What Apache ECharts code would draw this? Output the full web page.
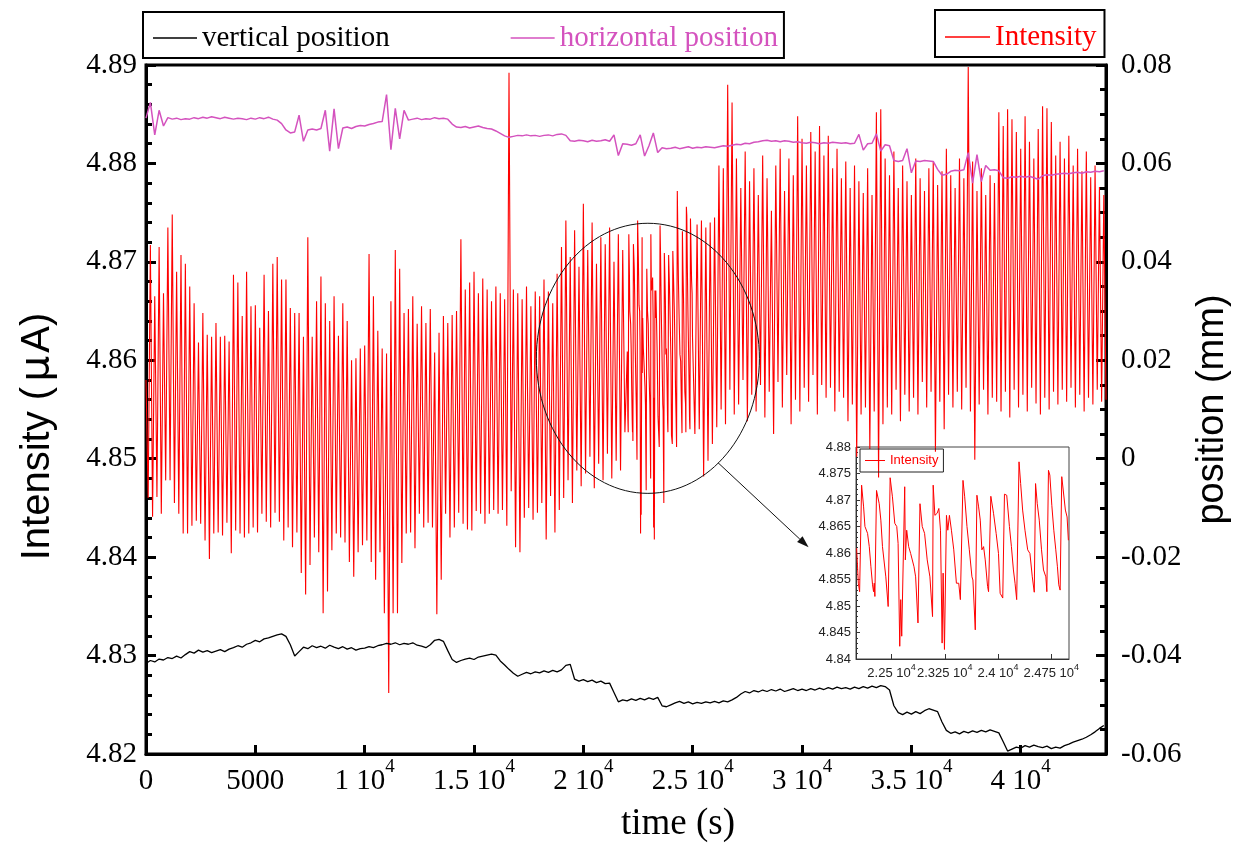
<!DOCTYPE html>
<html><head><meta charset="utf-8">
<script src="https://cdn.jsdelivr.net/npm/echarts@6/dist/echarts.min.js"></script>
<style>html,body{margin:0;padding:0;background:#fff}#c{width:1235px;height:844px}</style>
</head><body><div id="c"></div>
<script>
// ---------------- DATA ----------------
// Main intensity (µA), sampled every 100 s from 0 to 21900 s
const intensityA = [
4.858,4.846,4.8717,4.8441,4.8665,4.8461,4.8715,4.8444,4.8668,4.8478,
4.8735,4.8478,4.8748,4.8455,4.869,4.8444,4.8707,4.8424,4.8698,4.8424,
4.8675,4.8432,4.8658,4.8437,4.8618,4.8434,4.8648,4.8417,4.8626,4.8398,
4.8624,4.8424,4.8638,4.8425,4.8624,4.8422,4.8625,4.8435,4.8619,4.8404,
4.8687,4.8427,4.8679,4.8424,4.8645,4.842,4.869,4.8424,4.8655,4.843,
4.8656,4.8425,4.8633,4.8444,4.8687,4.8436,4.865,4.843,4.8698,4.8445,
4.8705,4.8436,4.8682,4.8417,4.8682,4.843,4.8653,4.841,4.8648,4.8425,
4.8648,4.8384,4.8624,4.8362,4.8725,4.8392,4.8624,4.842,4.866,4.8405,
4.8685,4.8343,4.8658,4.8365,4.864,4.8407,4.8665,4.8424,4.8625,4.842,
4.8658,4.8415,4.864,4.8395,4.86,4.838,4.8602,4.8405,4.8612,4.8412,
4.8615,4.8417,4.8708,4.8395,4.8665,4.8377,4.863,4.8405,4.8612,4.8343,
4.8607,4.8262,4.866,4.8343,4.8712,4.8343,4.8693,4.8394,4.8648,4.8424,
4.8652,4.8425,4.8665,4.8409,4.8637,4.8444,4.8655,4.843,4.8638,4.8435,
4.8652,4.843,4.8608,4.8342,4.8628,4.8377,4.8645,4.8444,4.8638,4.842,
4.8646,4.843,4.865,4.8445,4.8723,4.8434,4.8672,4.8428,4.8679,4.8427,
4.869,4.8447,4.8668,4.8444,4.8683,4.8434,4.8672,4.8444,4.866,4.8448,
4.8675,4.8444,4.8668,4.8448,4.8662,4.8432,4.8892,4.8467,4.8672,4.841,
4.8668,4.8405,4.8662,4.844,4.8675,4.845,4.8655,4.8438,4.867,4.8445,
4.8665,4.8455,4.8682,4.8418,4.867,4.8462,4.8658,4.8425,4.8688,4.8448,
4.8715,4.846,4.8742,4.8478,4.8705,4.8455,4.8732,4.8488,4.8695,4.8472,
4.8759,4.8485,4.8712,4.8502,4.874,4.847,4.8698,4.8495,4.8725,4.8478,
4.8718,4.8505,4.8735,4.848,4.87,4.8498,4.8728,4.8488,4.8712,4.8527
];
// Detailed intensity 22000-25000 s (as in the inset)
const insetTime = [
22009,22033,22051,22079,22107,22126,22163,22187,22210,22233,22247,22257,22266,22289,22327,22350,22373,22420,22453,
22481,22513,22546,22574,22593,22616,22630,22644,22686,22695,22714,22742,22770,22817,22840,22873,22901,22933,22966,
23003,23041,23078,23087,23111,23143,23167,23190,23213,23227,23246,23274,23293,23316,23344,23377,23414,23447,23470,
23507,23531,23563,23596,23633,23647,23680,23703,23727,23750,23773,23797,23820,23853,23867,23899,23937,23974,24007,
24030,24067,24091,24123,24161,24189,24217,24240,24263,24296,24319,24347,24380,24418,24450,24483,24511,24529,24553,
24581,24613,24641,24674,24688,24711,24730,24758,24786,24814,24837,24856,24875,24898,24926,24949,24973,24991
];
const insetIntensity = [
4.8609,4.8543,4.8527,4.8728,4.8687,4.8650,4.8637,4.8612,4.8574,4.8540,4.8527,4.8543,4.8518,4.8718,4.8693,4.8662,4.8612,4.8555,4.8499,
4.8742,4.8706,4.8656,4.8650,4.8618,4.8424,4.8512,4.8443,4.8725,4.8587,4.8643,4.8612,4.8599,4.8574,4.8555,4.8468,4.8693,4.8650,4.8637,
4.8587,4.8555,4.8480,4.8728,4.8671,4.8675,4.8684,4.8643,4.8430,4.8562,4.8418,4.8671,4.8643,4.8671,4.8643,4.8606,4.8543,4.8543,4.8512,
4.8737,4.8706,4.8650,4.8606,4.8555,4.8549,4.8455,4.8709,4.8687,4.8662,4.8606,4.8612,4.8587,4.8537,4.8527,4.8707,4.8675,4.8637,4.8599,
4.8524,4.8515,4.8711,4.8709,4.8650,4.8612,4.8568,4.8543,4.8512,4.8772,4.8731,4.8681,4.8643,4.8606,4.8599,4.8555,4.8526,4.8731,4.8693,
4.8662,4.8606,4.8568,4.8555,4.8527,4.8756,4.8747,4.8690,4.8643,4.8606,4.8574,4.8540,4.8530,4.8744,4.8744,4.8681,4.8668,4.8624
];
// Main intensity (µA), sampled every 100 s from 25100 to 43900 s
const intensityB = [
4.8525,4.8738,4.853,4.8742,4.8482,4.8735,4.8498,4.874,4.8515,
4.8745,4.8532,4.8798,4.855,4.8795,4.8535,4.888,4.857,4.8862,4.8545,
4.8805,4.8555,4.8775,4.858,4.8812,4.8538,4.8782,4.8565,4.8795,4.8548,
4.8768,4.8575,4.8808,4.8542,4.8785,4.8568,4.8752,4.8525,4.8798,4.8578,
4.8815,4.8552,4.8772,4.8585,4.8805,4.8535,4.8788,4.856,4.8848,4.8548,
4.8825,4.8572,4.8798,4.8558,4.8832,4.8585,4.8812,4.8545,4.8838,4.8575,
4.8808,4.8562,4.8828,4.8572,4.8795,4.8548,4.8815,4.8568,4.8785,4.8562,
4.8802,4.8538,4.8775,4.8555,4.8798,4.8502,4.8782,4.8545,4.877,4.8552,
4.8795,4.851,4.8768,4.8548,4.8852,4.8481,4.8855,4.8535,4.8805,4.8552,
4.8788,4.8545,4.8812,4.857,4.8775,4.8538,4.8798,4.8565,4.8782,4.8548,
4.8768,4.8562,4.8805,4.8545,4.8785,4.8578,4.8772,4.8552,4.8795,4.8568,
4.8802,4.8507,4.8778,4.8558,4.8792,4.853,4.8815,4.8565,4.8788,4.8552,
4.8775,4.8568,4.8805,4.855,4.8785,4.8572,4.8898,4.8548,4.8802,4.8499,
4.8772,4.8555,4.8795,4.857,4.8768,4.8545,4.8788,4.8562,4.878,4.8558,
4.8852,4.8548,4.8838,4.8568,4.8855,4.8542,4.8845,4.857,4.8832,4.8552,
4.8815,4.8565,4.8848,4.8548,4.8822,4.8572,4.8805,4.8556,4.8835,4.8545,
4.8858,4.8562,4.8856,4.855,4.8842,4.8568,4.8808,4.8555,4.8822,4.857,
4.8805,4.8558,4.8828,4.8572,4.8798,4.8552,4.8815,4.8565,4.8792,4.8548,
4.8812,4.8562,4.8786,4.8555,4.8798,4.857,4.8776,4.8558,4.8768,4.856
];
// Horizontal position (mm), every 200 s from 0 s
const horizPos = [
0.0692,0.0724,0.0658,0.0708,0.0676,0.0693,0.0690,0.0692,0.0689,0.0691,
0.0690,0.0693,0.0691,0.0694,0.0692,0.0695,0.0693,0.0691,0.0694,0.0692,
0.0690,0.0692,0.0691,0.0689,0.0692,0.0690,0.0693,0.0691,0.0694,0.0690,
0.0688,0.0681,0.0668,0.0662,0.0664,0.0698,0.0645,0.0668,0.0670,0.0668,
0.0671,0.0708,0.0625,0.0711,0.0630,0.0672,0.0674,0.0671,0.0675,0.0677,
0.0676,0.0679,0.0681,0.0684,0.0685,0.0740,0.0628,0.0712,0.0650,0.0708,
0.0688,0.0690,0.0692,0.0689,0.0691,0.0690,0.0693,0.0691,0.0692,0.0690,
0.0680,0.0674,0.0673,0.0675,0.0672,0.0674,0.0676,0.0673,0.0671,0.0670,
0.0666,0.0661,0.0656,0.0653,0.0655,0.0657,0.0656,0.0658,0.0656,0.0657,
0.0655,0.0657,0.0658,0.0656,0.0659,0.0660,0.0657,0.0646,0.0645,0.0647,
0.0646,0.0644,0.0647,0.0645,0.0646,0.0648,0.0645,0.0658,0.0616,0.0640,
0.0639,0.0637,0.0640,0.0658,0.0615,0.0636,0.0662,0.0622,0.0632,0.0630,
0.0631,0.0633,0.0630,0.0632,0.0634,0.0631,0.0633,0.0632,0.0634,0.0633,
0.0632,0.0634,0.0636,0.0635,0.0637,0.0639,0.0638,0.0641,0.0640,0.0643,
0.0644,0.0646,0.0647,0.0645,0.0646,0.0644,0.0646,0.0645,0.0643,0.0644,
0.0642,0.0641,0.0643,0.0642,0.0640,0.0642,0.0641,0.0643,0.0642,0.0641,
0.0642,0.0640,0.0641,0.0659,0.0627,0.0640,0.0641,0.0660,0.0625,0.0638,
0.0636,0.0606,0.0604,0.0606,0.0630,0.0581,0.0605,0.0604,0.0606,0.0605,
0.0604,0.0588,0.0576,0.0578,0.0584,0.0586,0.0585,0.0587,0.0622,0.0560,
0.0618,0.0563,0.0596,0.0586,0.0587,0.0585,0.0571,0.0570,0.0573,0.0572,
0.0574,0.0572,0.0574,0.0571,0.0568,0.0575,0.0577,0.0576,0.0578,0.0579,
0.0580,0.0579,0.0581,0.0582,0.0580,0.0583,0.0582,0.0584,0.0583,0.0585
];
// Vertical position (mm), every 200 s from 0 s
const vertPos = [
-0.0416,-0.0410,-0.0413,-0.0407,-0.0409,-0.0404,-0.0406,-0.0401,-0.0405,-0.0398,
-0.0392,-0.0395,-0.0389,-0.0393,-0.0390,-0.0394,-0.0391,-0.0388,-0.0392,-0.0387,
-0.0384,-0.0380,-0.0383,-0.0377,-0.0374,-0.0369,-0.0372,-0.0366,-0.0364,-0.0361,
-0.0358,-0.0356,-0.0361,-0.0378,-0.0401,-0.0392,-0.0383,-0.0386,-0.0380,-0.0384,
-0.0381,-0.0385,-0.0379,-0.0383,-0.0386,-0.0382,-0.0387,-0.0384,-0.0389,-0.0386,
-0.0385,-0.0382,-0.0384,-0.0380,-0.0378,-0.0375,-0.0377,-0.0374,-0.0378,-0.0375,
-0.0377,-0.0374,-0.0379,-0.0381,-0.0384,-0.0378,-0.0369,-0.0367,-0.0371,-0.0390,
-0.0408,-0.0414,-0.0410,-0.0407,-0.0405,-0.0408,-0.0403,-0.0401,-0.0399,-0.0397,
-0.0399,-0.0411,-0.0419,-0.0428,-0.0436,-0.0442,-0.0438,-0.0434,-0.0437,-0.0433,
-0.0435,-0.0431,-0.0434,-0.0430,-0.0433,-0.0429,-0.0420,-0.0418,-0.0448,-0.0452,
-0.0449,-0.0453,-0.0450,-0.0455,-0.0452,-0.0457,-0.0456,-0.0475,-0.0494,-0.0490,
-0.0492,-0.0488,-0.0491,-0.0487,-0.0490,-0.0486,-0.0489,-0.0485,-0.0502,-0.0504,
-0.0500,-0.0496,-0.0493,-0.0497,-0.0494,-0.0498,-0.0495,-0.0497,-0.0494,-0.0496,
-0.0493,-0.0496,-0.0492,-0.0494,-0.0490,-0.0485,-0.0478,-0.0473,-0.0476,-0.0471,
-0.0474,-0.0470,-0.0473,-0.0469,-0.0472,-0.0468,-0.0473,-0.0470,-0.0467,-0.0471,
-0.0468,-0.0471,-0.0467,-0.0470,-0.0466,-0.0469,-0.0465,-0.0468,-0.0464,-0.0467,
-0.0465,-0.0468,-0.0464,-0.0467,-0.0463,-0.0466,-0.0462,-0.0465,-0.0461,-0.0463,
-0.0470,-0.0502,-0.0516,-0.0520,-0.0515,-0.0519,-0.0514,-0.0518,-0.0512,-0.0508,
-0.0511,-0.0514,-0.0535,-0.0552,-0.0558,-0.0555,-0.0559,-0.0554,-0.0557,-0.0553,
-0.0556,-0.0552,-0.0555,-0.0551,-0.0554,-0.0557,-0.0575,-0.0594,-0.0590,-0.0586,
-0.0588,-0.0583,-0.0586,-0.0582,-0.0585,-0.0587,-0.0584,-0.0589,-0.0586,-0.0588,
-0.0583,-0.0580,-0.0576,-0.0573,-0.0570,-0.0566,-0.0561,-0.0555,-0.0548,-0.0542
];
const xTickLabels = ['0','5000','1 10^4','1.5 10^4','2 10^4','2.5 10^4','3 10^4','3.5 10^4','4 10^4'];
const insetXTickValues = [22500, 23250, 24000, 24750];
const insetXTickLabels = ['2.25 10^4','2.325 10^4','2.4 10^4','2.475 10^4'];
// annotation (data units): zoom ellipse and arrow
const zoomEllipse = {cx: 22950, cy: 4.8602, rx: 5100, ry: 0.01372};
const zoomArrow = {from: [26155, 4.8496], to: [30300, 4.8410]};

// ---------------- CHART ----------------
const SERIF = "'Liberation Serif','Times New Roman',serif";
const SANS = "'Liberation Sans',Arial,sans-serif";
const RED = '#ff0000', MAG = '#d452be', BLACK = '#000';
const STEP = 100, PSTEP = 200, B_START = 25100;

const mainData = [];
intensityA.forEach((v, i) => mainData.push([i * STEP, v]));
insetTime.forEach((t, i) => mainData.push([t, insetIntensity[i]]));
intensityB.forEach((v, i) => mainData.push([B_START + i * STEP, v]));
const insetData = insetTime.map((t, i) => [t, insetIntensity[i]]);
const hData = horizPos.map((v, i) => [i * PSTEP, v]);
const vData = vertPos.map((v, i) => [i * PSTEP, v]);

function toRich(s) {
  if (s.indexOf('^') >= 0) { const p = s.split('^'); return '{m|' + p[0] + '}{e|' + p[1] + '}'; }
  return '{m|' + s + '}';
}

const chart = echarts.init(document.getElementById('c'), null, {renderer: 'canvas'});
const option = {
  animation: false,
  backgroundColor: '#fff',
  grid: [
    {left: 146, top: 65, width: 960, height: 689, show: true, borderColor: '#000', borderWidth: 3,
     backgroundColor: 'transparent', containLabel: false, outerBoundsMode: 'none'},
    {left: 856, top: 447, width: 213, height: 212, show: true, borderColor: '#444', borderWidth: 1,
     backgroundColor: 'transparent', containLabel: false, outerBoundsMode: 'none'}
  ],
  legend: [
    {left: 143, top: 12, orient: 'horizontal', selectedMode: false, icon: 'rect', itemWidth: 44, itemHeight: 1.5, itemGap: 121,
     padding: [11, 6, 5, 10], borderColor: '#000', borderWidth: 2,
     textStyle: {fontFamily: SERIF, fontSize: 29, lineHeight: 30, color: '#000'},
     data: [{name: 'vertical position', textStyle: {color: BLACK}}, {name: 'horizontal position', textStyle: {color: MAG}}]},
    {left: 935, top: 10, orient: 'horizontal', selectedMode: false, icon: 'rect', itemWidth: 45, itemHeight: 1.5,
     padding: [12, 8, 5, 10], borderColor: '#000', borderWidth: 2,
     textStyle: {fontFamily: SERIF, fontSize: 29, lineHeight: 30, color: RED},
     data: [{name: 'Intensity', textStyle: {color: RED}}]},
    {left: 860, top: 449, orient: 'horizontal', selectedMode: false, icon: 'rect', itemWidth: 20, itemHeight: 1,
     padding: [4, 5, 4, 5], borderColor: '#222', borderWidth: 1,
     textStyle: {fontFamily: SANS, fontSize: 13, lineHeight: 15, color: RED},
     data: [{name: 'Intensity', textStyle: {color: RED}}]}
  ],
  xAxis: [
    {type: 'value', gridIndex: 0, min: 0, max: 43900, interval: 5000,
     name: 'time (s)', nameLocation: 'middle', nameGap: 52,
     nameTextStyle: {fontFamily: SERIF, fontSize: 37, color: '#000', padding: [0, 0, 0, 104]},
     axisLine: {show: true, onZero: false, lineStyle: {color: '#000', width: 3}},
     axisTick: {show: true, inside: true, length: 9, lineStyle: {color: '#000', width: 3}},
     splitLine: {show: false},
     axisLabel: {margin: 4, showMaxLabel: false,
       formatter: v => { const k = Math.round(v / 5000); return (k * 5000 === v && xTickLabels[k] !== undefined) ? toRich(xTickLabels[k]) : ''; },
       rich: {m: {fontFamily: SERIF, fontSize: 29, lineHeight: 38, verticalAlign: 'bottom', color: '#000'},
              e: {fontFamily: SERIF, fontSize: 19, lineHeight: 19, verticalAlign: 'top', color: '#000'}}}},
    {type: 'value', gridIndex: 1, min: 22000, max: 25000,
     axisLine: {show: true, onZero: false, lineStyle: {color: '#333', width: 1}},
     axisTick: {show: true, inside: true, length: 5, customValues: insetXTickValues, lineStyle: {color: '#333', width: 1}},
     splitLine: {show: false},
     axisLabel: {margin: 4, customValues: insetXTickValues,
       formatter: v => { const i = insetXTickValues.indexOf(v); return i >= 0 ? toRich(insetXTickLabels[i]) : ''; },
       rich: {m: {fontFamily: SANS, fontSize: 13, lineHeight: 17, verticalAlign: 'bottom', color: '#222'},
              e: {fontFamily: SANS, fontSize: 9, lineHeight: 9, verticalAlign: 'top', color: '#222'}}}}
  ],
  yAxis: [
    {type: 'value', gridIndex: 0, position: 'left', min: 4.82, max: 4.89, interval: 0.01,
     name: '{a|Intensity (}{b|μ}{a|A)}', nameLocation: 'middle', nameGap: 88, nameRotate: 90,
     nameTextStyle: {fontFamily: SANS, fontSize: 38, color: '#000', padding: [0, 54, 0, 0],
       rich: {a: {fontFamily: SANS, fontSize: 40, color: '#000'}, b: {fontFamily: "'DejaVu Sans'", fontSize: 41, color: '#000', padding: [0, 3, 0, 5]}}},
     axisLine: {show: true, onZero: false, lineStyle: {color: '#000', width: 3}},
     axisTick: {show: true, inside: true, length: 10, lineStyle: {color: '#000', width: 3}},
     minorTick: {show: true, splitNumber: 5, length: 6, lineStyle: {color: '#000', width: 3}},
     splitLine: {show: false},
     axisLabel: {margin: 9, fontFamily: SERIF, fontSize: 29, color: '#000', formatter: v => v.toFixed(2)}},
    {type: 'value', gridIndex: 0, position: 'right', min: -0.06, max: 0.08, interval: 0.02,
     name: 'position (mm)', nameLocation: 'middle', nameGap: 88, nameRotate: 90,
     nameTextStyle: {fontFamily: SANS, fontSize: 38, color: '#000'},
     axisLine: {show: true, onZero: false, lineStyle: {color: '#000', width: 3}},
     axisTick: {show: true, inside: true, length: 10, lineStyle: {color: '#000', width: 3}},
     minorTick: {show: true, splitNumber: 4, length: 6, lineStyle: {color: '#000', width: 3}},
     splitLine: {show: false},
     axisLabel: {margin: 15, fontFamily: SERIF, fontSize: 29, color: '#000', formatter: v => String(parseFloat(v.toFixed(2)))}},
    {type: 'value', gridIndex: 1, min: 4.84, max: 4.88, interval: 0.005,
     axisLine: {show: true, onZero: false, lineStyle: {color: '#333', width: 1}},
     axisTick: {show: true, inside: true, length: 4, lineStyle: {color: '#333', width: 1}},
     minorTick: {show: true, splitNumber: 5, length: 2, lineStyle: {color: '#333', width: 1}},
     splitLine: {show: false},
     axisLabel: {margin: 5, fontFamily: SANS, fontSize: 13, color: '#222', formatter: v => String(parseFloat(v.toFixed(3)))}}
  ],
  series: [
    {name: 'Intensity', type: 'line', xAxisIndex: 0, yAxisIndex: 0, data: mainData, showSymbol: false, symbol: 'none',
     lineStyle: {color: RED, width: 1.1}, itemStyle: {color: RED}, z: 2},
    {name: 'vertical position', type: 'line', xAxisIndex: 0, yAxisIndex: 1, data: vData, showSymbol: false, symbol: 'none',
     lineStyle: {color: BLACK, width: 1.3}, itemStyle: {color: BLACK}, z: 3},
    {name: 'horizontal position', type: 'line', xAxisIndex: 0, yAxisIndex: 1, data: hData, showSymbol: false, symbol: 'none',
     lineStyle: {color: MAG, width: 1.5}, itemStyle: {color: MAG}, z: 4},
    {name: 'Intensity', type: 'line', xAxisIndex: 1, yAxisIndex: 2, data: insetData, showSymbol: false, symbol: 'none',
     lineStyle: {color: RED, width: 1}, itemStyle: {color: RED}, z: 5}
  ]
};
chart.setOption(option);

// annotation shapes computed from data coordinates
const fm = {xAxisIndex: 0, yAxisIndex: 0};
const c0 = chart.convertToPixel(fm, [zoomEllipse.cx, zoomEllipse.cy]);
const cx1 = chart.convertToPixel(fm, [zoomEllipse.cx + zoomEllipse.rx, zoomEllipse.cy]);
const cy1 = chart.convertToPixel(fm, [zoomEllipse.cx, zoomEllipse.cy + zoomEllipse.ry]);
const a0 = chart.convertToPixel(fm, zoomArrow.from);
const a1 = chart.convertToPixel(fm, zoomArrow.to);
const dx = a1[0] - a0[0], dy = a1[1] - a0[1], len = Math.hypot(dx, dy);
const ux = dx / len, uy = dy / len, hl = 12, hw = 4;
const bx = a1[0] - ux * hl, by = a1[1] - uy * hl;
chart.setOption({
  graphic: [
    {type: 'ellipse', z: 100, silent: true,
     shape: {cx: c0[0], cy: c0[1], rx: Math.abs(cx1[0] - c0[0]), ry: Math.abs(cy1[1] - c0[1])},
     style: {fill: null, stroke: '#111', lineWidth: 1}},
    {type: 'line', z: 100, silent: true,
     shape: {x1: a0[0], y1: a0[1], x2: bx, y2: by}, style: {stroke: '#111', lineWidth: 1}},
    {type: 'polygon', z: 100, silent: true,
     shape: {points: [[a1[0], a1[1]], [bx - uy * hw, by + ux * hw], [bx + uy * hw, by - ux * hw]]},
     style: {fill: '#111'}}
  ]
});
</script>
</body></html>
